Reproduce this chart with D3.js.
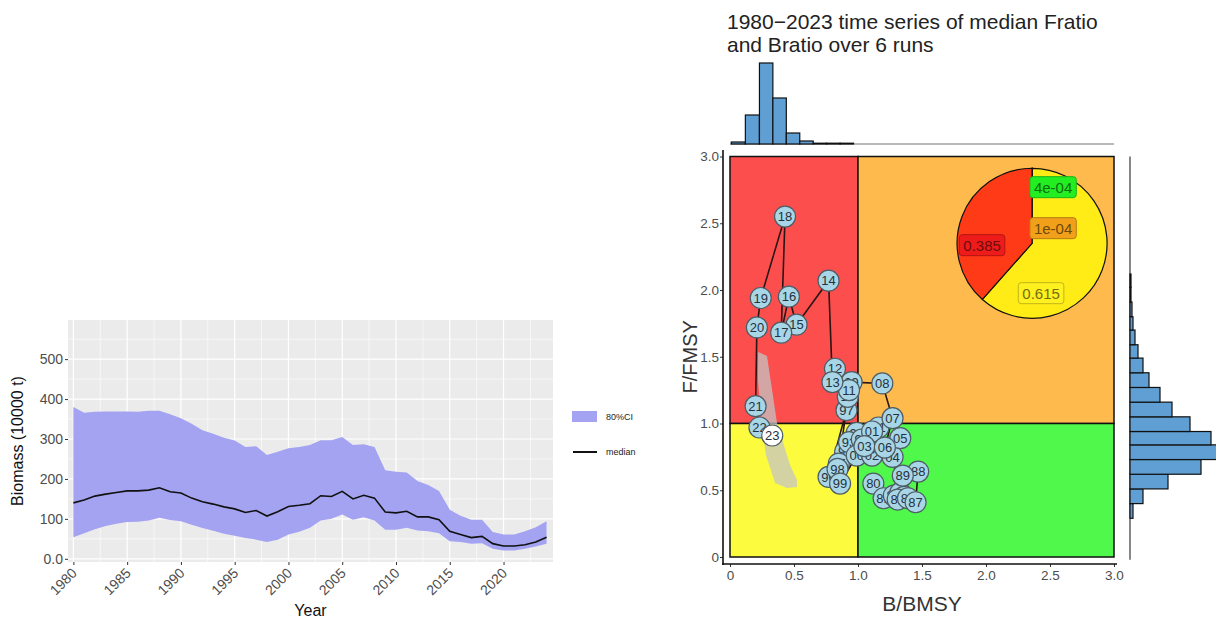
<!DOCTYPE html>
<html>
<head>
<meta charset="utf-8">
<script src="https://cdn.jsdelivr.net/npm/d3@7"></script>
<style>
  body { margin: 0; background: #fff; }
  text { font-family: "Liberation Sans", Arial, sans-serif; }
</style>
</head>
<body>
<svg id="chart" width="1216" height="622"></svg>
<script>
// ---- biomass series (10000 t) ----
var years  = [1980,1981,1982,1983,1984,1985,1986,1987,1988,1989,
              1990,1991,1992,1993,1994,1995,1996,1997,1998,1999,
              2000,2001,2002,2003,2004,2005,2006,2007,2008,2009,
              2010,2011,2012,2013,2014,2015,2016,2017,2018,2019,
              2020,2021,2022,2023,2024];
var median = [140,147,157,162,166,170,170,172,178,168,
              165,152,143,137,130,125,116,121,107,118,
              131,134,138,158,156,169,150,159,152,117,
              115,119,105,105,98,69,61,53,56,38,
              32,32,35,42,54];
var lower  = [54,64,74,82,88,92,93,96,103,97,
              94,85,77,70,63,58,52,48,42,48,
              61,68,78,96,100,111,98,104,96,73,
              73,78,71,69,64,44,42,38,39,25,
              21,21,25,31,38];
var upper  = [380,366,368,369,369,369,368,371,371,362,
              352,338,322,313,303,296,280,282,260,268,
              277,280,285,297,297,305,285,287,280,222,
              218,216,195,185,170,123,108,98,98,67,
              61,61,69,79,94];
var yearTicks = [1980,1985,1990,1995,2000,2005,2010,2015,2020];
var biomassTicks = [0,100,200,300,400,500];

// ---- kobe trajectory ----
var kobeLabel = ["80","81","82","83","84","85","86","87","88","89",
                 "90","91","92","93","94","95","96","97","98","99",
                 "00","01","02","03","04","05","06","07","08","09",
                 "10","11","12","13","14","15","16","17","18","19",
                 "20","21","22","23"];
var kobeB = [1.12,1.20,1.28,1.33,1.36,1.31,1.39,1.45,1.47,1.35,
             0.99,1.16,0.90,0.93,1.03,0.85,0.77,0.91,0.84,0.86,
             0.99,1.11,1.11,1.05,1.27,1.33,1.21,1.27,1.19,0.95,
             0.92,0.93,0.82,0.80,0.77,0.52,0.46,0.40,0.43,0.24,
             0.21,0.20,0.23,0.33];
var kobeF = [0.55,0.44,0.46,0.48,0.45,0.43,0.44,0.41,0.64,0.61,
             0.93,0.97,0.79,0.86,0.88,0.70,0.60,1.10,0.66,0.55,
             0.76,0.94,0.76,0.83,0.75,0.89,0.82,1.04,1.30,1.31,
             1.20,1.25,1.41,1.31,2.07,1.74,1.95,1.68,2.55,1.94,
             1.72,1.13,0.97,0.91];
// uncertainty region of the final year
var regionB = [0.219,0.289,0.367,0.469,0.523,0.523,0.445,0.352,0.281,0.242,0.219];
var regionF = [1.536,1.506,1.004,0.689,0.577,0.524,0.517,0.554,0.764,1.026,1.326];
var kobeTicks = [0,0.5,1,1.5,2,2.5,3];

// marginal histograms
var topEdges  = [0.01,0.12,0.23,0.335,0.44,0.545,0.65,0.755,0.86,0.965];
var topCounts = [2,29,81,46,11,3,0.8,0.8,0.8];
var rightEdges  = [0.29,0.40,0.51,0.62,0.73,0.84,0.94,1.05,1.16,1.27,1.38,1.49,1.59,1.70,1.80,1.91,2.02,2.12];
var rightCounts = [3,13,38,71,88,81,60,42,30,19,13,8,5,3,2,1,1];

// pie of final-year status probabilities
var pieName  = ["green","orange","yellow","red"];
var pieValue = [0.0004,0.0001,0.615,0.385];
var pieText  = ["4e-04","1e-04","0.615","0.385"];

var svg = d3.select("#chart");

// ================= left: biomass =================
var bx = d3.scaleLinear().domain([1979.5, 2024.6]).range([68, 553]);
var by = d3.scaleLinear().domain([-8, 598]).range([562, 320]);
var left = svg.append("g");

left.append("rect")
    .attr("x", bx.range()[0]).attr("y", by.range()[1])
    .attr("width", bx.range()[1] - bx.range()[0])
    .attr("height", by.range()[0] - by.range()[1])
    .attr("fill", "#ebebeb");

var minorX = yearTicks.map(function(d) { return d + 2.5; }).filter(function(d) { return d < 2024.6; });
var minorY = [50,150,250,350,450,550];
left.selectAll(".mx").data(minorX).enter().append("line")
    .attr("x1", bx).attr("x2", bx).attr("y1", by.range()[0]).attr("y2", by.range()[1])
    .attr("stroke", "#fff").attr("stroke-width", 0.6);
left.selectAll(".my").data(minorY).enter().append("line")
    .attr("y1", by).attr("y2", by).attr("x1", bx.range()[0]).attr("x2", bx.range()[1])
    .attr("stroke", "#fff").attr("stroke-width", 0.6);
left.selectAll(".gx").data(yearTicks).enter().append("line")
    .attr("x1", bx).attr("x2", bx).attr("y1", by.range()[0]).attr("y2", by.range()[1])
    .attr("stroke", "#fff").attr("stroke-width", 1.2);
left.selectAll(".gy").data(biomassTicks).enter().append("line")
    .attr("y1", by).attr("y2", by).attr("x1", bx.range()[0]).attr("x2", bx.range()[1])
    .attr("stroke", "#fff").attr("stroke-width", 1.2);

var ribbonColor = "#a3a3f2";
left.append("path")
    .datum(years)
    .attr("d", d3.area()
        .x(function(d) { return bx(d); })
        .y0(function(d, i) { return by(lower[i]); })
        .y1(function(d, i) { return by(upper[i]); }))
    .attr("fill", ribbonColor);

left.append("path")
    .datum(years)
    .attr("d", d3.line()
        .x(function(d) { return bx(d); })
        .y(function(d, i) { return by(median[i]); }))
    .attr("fill", "none").attr("stroke", "#111").attr("stroke-width", 1.6);

var lyAxis = left.append("g")
    .attr("transform", "translate(" + bx.range()[0] + ",0)")
    .call(d3.axisLeft(by).tickValues(biomassTicks).tickSize(3).tickSizeOuter(0)
        .tickFormat(function(d) { return d === 0 ? "0.0" : d; }));
var lxAxis = left.append("g")
    .attr("transform", "translate(0," + by.range()[0] + ")")
    .call(d3.axisBottom(bx).tickValues(yearTicks).tickSize(3).tickSizeOuter(0).tickFormat(d3.format("d")));
[lyAxis, lxAxis].forEach(function(a) {
    a.select(".domain").remove();
    a.selectAll(".tick line").attr("stroke", "#333");
    a.selectAll(".tick text").attr("fill", "#4d4d4d").style("font-size", "14px")
        .style("font-family", "Liberation Sans, Arial, sans-serif");
});
lyAxis.selectAll(".tick text").attr("x", -5);
lxAxis.selectAll(".tick text")
    .attr("text-anchor", "end")
    .attr("dy", null).attr("y", 0)
    .attr("transform", "translate(4,12) rotate(-45)");

left.append("text").text("Year")
    .attr("x", (bx.range()[0] + bx.range()[1]) / 2).attr("y", 616)
    .attr("text-anchor", "middle").attr("fill", "#111").style("font-size", "16px");
left.append("text").text("Biomass (10000 t)")
    .attr("transform", "translate(23," + ((by.range()[0] + by.range()[1]) / 2) + ") rotate(-90)")
    .attr("text-anchor", "middle").attr("fill", "#111").style("font-size", "16px");

// legend
left.append("rect").attr("x", 572).attr("y", 411).attr("width", 25).attr("height", 11).attr("fill", ribbonColor);
left.append("text").text("80%CI").attr("x", 606).attr("y", 420).attr("fill", "#222").style("font-size", "9px");
left.append("line").attr("x1", 573).attr("x2", 597).attr("y1", 452).attr("y2", 452)
    .attr("stroke", "#111").attr("stroke-width", 2);
left.append("text").text("median").attr("x", 606).attr("y", 455).attr("fill", "#222").style("font-size", "9px");

// ================= right: kobe =================
var kx = d3.scaleLinear().domain([0, 3]).range([730, 1114]);
var ky = d3.scaleLinear().domain([0, 3]).range([557, 156.5]);
var right = svg.append("g");

right.append("text").attr("x", 727).attr("y", 29).attr("fill", "#222").style("font-size", "21px")
    .text("1980\u22122023 time series of median Fratio");
right.append("text").attr("x", 727).attr("y", 52).attr("fill", "#222").style("font-size", "21px")
    .text("and Bratio over 6 runs");

var zones = [
    { b0: 0, b1: 1, f0: 1, f1: 3, fill: "#fd4e4e" },
    { b0: 1, b1: 3, f0: 1, f1: 3, fill: "#ffba4d" },
    { b0: 0, b1: 1, f0: 0, f1: 1, fill: "#fdfb3e" },
    { b0: 1, b1: 3, f0: 0, f1: 1, fill: "#4ff84a" }
];
right.selectAll(".zone").data(zones).enter().append("rect")
    .attr("x", function(d) { return kx(d.b0); })
    .attr("y", function(d) { return ky(d.f1); })
    .attr("width", function(d) { return kx(d.b1) - kx(d.b0); })
    .attr("height", function(d) { return ky(d.f0) - ky(d.f1); })
    .attr("fill", function(d) { return d.fill; })
    .attr("stroke", "#111").attr("stroke-width", 1.5);

// axes
var kyAxis = right.append("g").attr("transform", "translate(723,0)")
    .call(d3.axisLeft(ky).tickValues(kobeTicks).tickSize(3).tickSizeOuter(0)
        .tickFormat(function(d) { return d === 0 ? "0" : d3.format(".1f")(d); }));
var kxAxis = right.append("g").attr("transform", "translate(0,564)")
    .call(d3.axisBottom(kx).tickValues(kobeTicks).tickSize(3).tickSizeOuter(0)
        .tickFormat(function(d) { return d === 0 ? "0" : d3.format(".1f")(d); }));
[kyAxis, kxAxis].forEach(function(a) {
    a.select(".domain").remove();
    a.selectAll(".tick line").attr("stroke", "#333");
    a.selectAll(".tick text").attr("fill", "#4d4d4d").style("font-size", "13.5px")
        .style("font-family", "Liberation Sans, Arial, sans-serif");
});
kyAxis.selectAll(".tick text").attr("x", -4);
right.append("line").attr("x1", 723).attr("x2", 723).attr("y1", 150).attr("y2", 565)
    .attr("stroke", "#111").attr("stroke-width", 1.6);
right.append("line").attr("x1", 722).attr("x2", 1117).attr("y1", 564).attr("y2", 564)
    .attr("stroke", "#111").attr("stroke-width", 1.6);

right.append("text").text("B/BMSY")
    .attr("x", (kx.range()[0] + kx.range()[1]) / 2).attr("y", 611)
    .attr("text-anchor", "middle").attr("fill", "#333").style("font-size", "21px");
right.append("text").text("F/FMSY")
    .attr("transform", "translate(697," + ((ky.range()[0] + ky.range()[1]) / 2) + ") rotate(-90)")
    .attr("text-anchor", "middle").attr("fill", "#333").style("font-size", "20px");

// uncertainty region
right.append("path")
    .datum(regionB)
    .attr("d", d3.line().curve(d3.curveLinearClosed)
        .x(function(d) { return kx(d); })
        .y(function(d, i) { return ky(regionF[i]); }))
    .attr("fill", "#c4c4c4").attr("opacity", 0.75);

// trajectory
right.append("path")
    .datum(kobeB)
    .attr("d", d3.line()
        .x(function(d) { return kx(d); })
        .y(function(d, i) { return ky(kobeF[i]); }))
    .attr("fill", "none").attr("stroke", "#2a1414").attr("stroke-width", 1.6);

var pts = right.selectAll(".pt").data(kobeLabel).enter().append("g")
    .attr("transform", function(d, i) { return "translate(" + kx(kobeB[i]) + "," + ky(kobeF[i]) + ")"; });
pts.append("circle").attr("r", 10.5)
    .attr("fill", function(d, i) { return i === kobeLabel.length - 1 ? "#ffffff" : "#a9d6e6"; })
    .attr("stroke", "#4d5d66").attr("stroke-width", 1.2);
pts.append("text").text(function(d) { return d; })
    .attr("text-anchor", "middle").attr("dy", "0.36em")
    .attr("fill", "#24323d").style("font-size", "13px");

// pie
var pieColor = { green: "#17ec17", orange: "#ff9d17", yellow: "#ffec17", red: "#ff3a17" };
var labelFill = { green: "#22ee22", orange: "#f2a01a", yellow: "#fff020", red: "#ee1b1b" };
var pieCenter = [kx(2.36), ky(2.35)];
var pieR = 75;
var labelOffset = { green: [21, -56], orange: [21, -15], yellow: [9, 50], red: [-50, 2] };
var arcs = d3.pie().sort(null)(pieValue);
var pieG = right.append("g").attr("transform", "translate(" + pieCenter[0] + "," + pieCenter[1] + ")");
pieG.selectAll(".slice").data(arcs).enter().append("path")
    .attr("d", d3.arc().innerRadius(0).outerRadius(pieR))
    .attr("fill", function(d, i) { return pieColor[pieName[i]]; })
    .attr("stroke", "#111").attr("stroke-width", 1.2);

var labs = pieG.selectAll(".plab").data(pieText).enter().append("g")
    .attr("transform", function(d, i) { var o = labelOffset[pieName[i]]; return "translate(" + o[0] + "," + o[1] + ")"; });
labs.append("text").text(function(d) { return d; })
    .attr("text-anchor", "middle").attr("dy", "0.36em")
    .attr("fill", function(d, i) { return d3.color(labelFill[pieName[i]]).darker(2.2); })
    .style("font-size", "15px")
    .each(function(d, i) {
        var bb = this.getBBox();
        d3.select(this.parentNode).insert("rect", "text")
            .attr("x", bb.x - 4).attr("y", bb.y - 2)
            .attr("width", bb.width + 8).attr("height", bb.height + 4)
            .attr("rx", 3)
            .attr("fill", labelFill[pieName[i]])
            .attr("stroke", d3.color(labelFill[pieName[i]]).darker(0.8)).attr("stroke-width", 1);
    });

// top marginal histogram
var topH = d3.scaleLinear().domain([0, 81]).range([144, 63]);
right.append("line").attr("x1", kx(0)).attr("x2", kx(3)).attr("y1", 144).attr("y2", 144)
    .attr("stroke", "#777").attr("stroke-width", 1.2);
right.selectAll(".th").data(topCounts).enter().append("rect")
    .attr("x", function(d, i) { return kx(topEdges[i]); })
    .attr("width", function(d, i) { return kx(topEdges[i + 1]) - kx(topEdges[i]); })
    .attr("y", function(d) { return topH(d); })
    .attr("height", function(d) { return 144 - topH(d); })
    .attr("fill", "#5f9fd3").attr("stroke", "#111").attr("stroke-width", 1.2);

// right marginal histogram
var rightW = d3.scaleLinear().domain([0, 88]).range([1130, 1218]);
right.append("line").attr("x1", 1130).attr("x2", 1130).attr("y1", ky(3)).attr("y2", ky(-0.02))
    .attr("stroke", "#555").attr("stroke-width", 1.4);
right.selectAll(".rh").data(rightCounts).enter().append("rect")
    .attr("x", 1130)
    .attr("y", function(d, i) { return ky(rightEdges[i + 1]); })
    .attr("height", function(d, i) { return ky(rightEdges[i]) - ky(rightEdges[i + 1]); })
    .attr("width", function(d) { return rightW(d) - 1130; })
    .attr("fill", "#5f9fd3").attr("stroke", "#111").attr("stroke-width", 1.2);
</script>
</body>
</html>
